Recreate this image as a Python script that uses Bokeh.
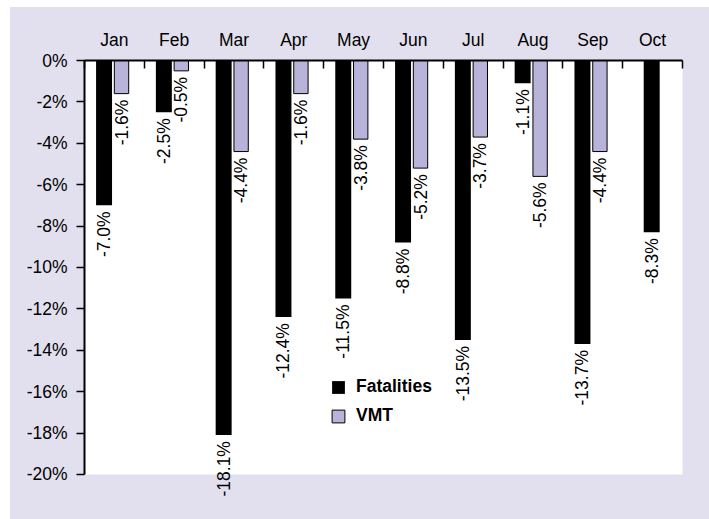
import numpy as np
from bokeh.plotting import figure
from bokeh.models import (ColumnDataSource, FixedTicker, PrintfTickFormatter,
                          LabelSet, Legend, LegendItem)
from bokeh.core.properties import value
from bokeh.embed import file_html
from bokeh.resources import INLINE

# ---- data ----
months = ["Jan", "Feb", "Mar", "Apr", "May", "Jun", "Jul", "Aug", "Sep", "Oct"]
fatalities = [-7.0, -2.5, -18.1, -12.4, -11.5, -8.8, -13.5, -1.1, -13.7, -8.3]
vmt = [-1.6, -0.5, -4.4, -1.6, -3.8, -5.2, -3.7, -5.6, -4.4, None]
y_ticks = list(range(0, -21, -2))
y_axis_min = -20

FONT = "Liberation Sans"
FS = "17.5px"
LAV = "#E2E0EE"
VMT_COLOR = "#B8B3D9"

idx = np.arange(len(months))
centers = idx + 0.5
has_vmt = [v is not None for v in vmt]
fat_x = [c - 0.173 if h else c - 0.015 for c, h in zip(centers, has_vmt)]

fat_src = ColumnDataSource(dict(
    x=fat_x, y=fatalities, text=[f"{v:.1f}%" for v in fatalities]))
vmt_src = ColumnDataSource(dict(
    x=[c + 0.119 for c, h in zip(centers, has_vmt) if h],
    y=[v for v in vmt if v is not None],
    text=[f"{v:.1f}%" for v in vmt if v is not None]))

# frame extends a little below -20% so the lowest label is not clipped;
# the white plotting area is drawn as a quad from 0 down to -20%
y_lo = -21.6
p = figure(frame_width=598, frame_height=447,
           min_border_left=74, min_border_right=27,
           min_border_top=53, min_border_bottom=12,
           x_range=(0, 10), y_range=(y_lo, 0), x_axis_location="above",
           output_backend="svg", toolbar_location=None,
           border_fill_color=LAV, background_fill_color=LAV,
           outline_line_color=None)
p.margin = (7, 0, 0, 10)
p.styles = {"background-color": LAV}

p.quad(left=-1, right=11, bottom=y_axis_min, top=1,
       fill_color="white", line_color=None)

r1 = p.vbar(x="x", top=0, bottom="y", width=0.267, source=fat_src,
            fill_color="black", line_color=None)
r2 = p.vbar(x="x", top=0, bottom="y", width=0.24, source=vmt_src,
            fill_color=VMT_COLOR, line_color="black", line_width=1)

for src in (fat_src, vmt_src):
    ls = LabelSet(x="x", y="y", text="text", source=src, angle=90,
                  angle_units="deg", text_align="right", text_baseline="middle",
                  y_offset=-6, text_font=value(FONT), text_font_size=FS,
                  text_color="black")
    p.add_layout(ls)

p.xgrid.visible = False
p.ygrid.visible = False

xa = p.xaxis[0]
xa.ticker = FixedTicker(ticks=[float(c) for c in centers],
                        minor_ticks=[float(i) for i in range(0, 11)])
xa.major_label_overrides = {float(c): m for c, m in zip(centers, months)}
xa.major_tick_in = 0
xa.major_tick_out = 0
xa.minor_tick_in = 8
xa.minor_tick_out = 0
xa.minor_tick_line_color = "black"
xa.minor_tick_line_width = 1.5
xa.axis_line_color = "black"
xa.axis_line_width = 2
xa.major_label_text_font = FONT
xa.major_label_text_font_size = FS
xa.major_label_text_color = "black"
xa.major_label_standoff = 11

ya = p.yaxis[0]
ya.ticker = FixedTicker(ticks=y_ticks)
ya.formatter = PrintfTickFormatter(format="%d%%")
ya.bounds = (y_axis_min, 0)
ya.major_tick_in = 0
ya.major_tick_out = 8
ya.major_tick_line_color = "black"
ya.major_tick_line_width = 1.5
ya.minor_tick_line_color = None
ya.axis_line_color = "black"
ya.axis_line_width = 2
ya.major_label_text_font = FONT
ya.major_label_text_font_size = FS
ya.major_label_text_color = "black"
ya.major_label_standoff = 9

legend = Legend(items=[LegendItem(label="Fatalities", renderers=[r1]),
                       LegendItem(label="VMT", renderers=[r2])],
                location=(246, 81), background_fill_alpha=0,
                border_line_color=None, padding=0, margin=0, spacing=8,
                glyph_width=16, glyph_height=16, label_standoff=10,
                label_text_font=FONT, label_text_font_style="bold",
                label_text_font_size=FS, label_text_color="black")
p.add_layout(legend)

open("out.html", "w").write(file_html(p, INLINE))
